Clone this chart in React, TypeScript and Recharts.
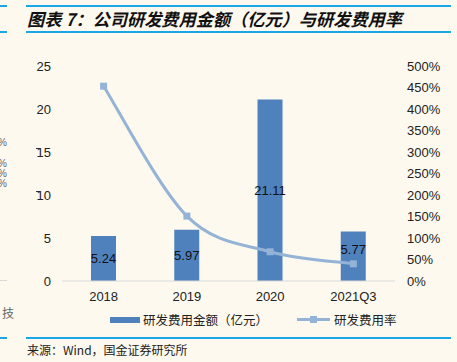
import React from "react";
import { ComposedChart, Bar, Line, XAxis, YAxis, LabelList } from "recharts";

const categories = ["2018", "2019", "2020", "2021Q3"];
const rdExpense = [5.24, 5.97, 21.11, 5.77];
const rdRate = [453, 151, 68, 40];
const leftTicks = [0, 5, 10, 15, 20, 25];
const rightTicks = [0, 50, 100, 150, 200, 250, 300, 350, 400, 450, 500];

const data = categories.map((c, i) => ({ name: c, expense: rdExpense[i], rate: rdRate[i] }));

const BG = "#FEF9EE";
const BAR = "#4F81BD";
const LINE = "#95B3D7";
const RULE = "#1AA7E8";
const NUM_FONT = "'Liberation Sans', Arial, sans-serif";
const CJK_FONT = "'Noto Sans CJK SC', sans-serif";

// Excel-like smoothed line (Catmull-Rom style bezier), as a d3-compatible curve factory
function excelSmooth(context: any) {
  let pts: [number, number][] = [];
  return {
    areaStart() {},
    areaEnd() {},
    lineStart() { pts = []; },
    point(x: number, y: number) { pts.push([+x, +y]); },
    lineEnd() {
      const n = pts.length;
      if (n === 0) return;
      context.moveTo(pts[0][0], pts[0][1]);
      for (let i = 0; i < n - 1; i++) {
        const p0 = pts[Math.max(0, i - 1)];
        const p1 = pts[i];
        const p2 = pts[i + 1];
        const p3 = pts[Math.min(n - 1, i + 2)];
        const t = 1 / 6;
        const c1x = p1[0] + (p2[0] - p0[0]) * t;
        const c1y = p1[1] + (p2[1] - p0[1]) * t;
        const c2x = p2[0] - (p3[0] - p1[0]) * t;
        const c2y = p2[1] - (p3[1] - p1[1]) * t;
        context.bezierCurveTo(c1x, c1y, c2x, c2y, p2[0], p2[1]);
      }
    },
  };
}

const SquareDot = (props: any) => {
  const { cx, cy } = props;
  if (cx == null || cy == null) return null;
  return <rect x={cx - 3.5} y={cy - 3.5} width={7} height={7} fill={LINE} />;
};

const BarLabel = (props: any) => {
  const { x, y, width, height, value, index } = props;
  const shift = index === categories.length - 1 ? -7 : 0;
  return (
    <text
      x={x + width / 2}
      y={y + height / 2 + shift}
      textAnchor="middle"
      dominantBaseline="central"
      fill="#111"
      fontSize={13}
      fontFamily={NUM_FONT}
    >
      {Number(value).toFixed(2)}
    </text>
  );
};

export default function App() {
  return (
    <div style={{ position: "absolute", left: 0, top: 0, width: 457, height: 362, background: BG, overflow: "hidden" }}>
      {/* title rules */}
      <div style={{ position: "absolute", left: 0, top: 5, width: 7, height: 2, background: RULE }} />
      <div style={{ position: "absolute", left: 0, top: 31, width: 7, height: 2, background: RULE }} />
      <div style={{ position: "absolute", left: 26, top: 5, width: 425, height: 2, background: RULE }} />
      <div style={{ position: "absolute", left: 26, top: 31, width: 425, height: 2, background: RULE }} />
      <div style={{ position: "absolute", left: 27, top: 7, height: 24, lineHeight: "24px", fontFamily: CJK_FONT, fontSize: 17.2, fontStyle: "italic", fontWeight: 700, color: "#111", whiteSpace: "nowrap" }}>
        图表 7：公司研发费用金额（亿元）与研发费用率
      </div>
      {/* remnants of neighbouring column */}
      {[142, 163, 173, 183].map((y, i) => (
        <div key={i} style={{ position: "absolute", left: -2, top: y - 4, fontFamily: NUM_FONT, fontSize: 10, color: "#666", lineHeight: "9px" }}>%</div>
      ))}
      <div style={{ position: "absolute", left: 36, top: 148, width: 4, height: 1, background: "#333" }} />
      <div style={{ position: "absolute", left: 36, top: 191, width: 4, height: 1, background: "#333" }} />
      <div style={{ position: "absolute", left: 0, top: 280, width: 7, height: 1, background: "#D9D9D9" }} />
      <div style={{ position: "absolute", left: 2, top: 305, fontFamily: CJK_FONT, fontSize: 12, color: "#666", lineHeight: "16px" }}>技</div>

      <div style={{ position: "absolute", left: 0, top: 0 }}>
        <ComposedChart width={457} height={362} data={data} margin={{ top: 66, right: 0, bottom: 0, left: 0 }} barSize={25}>
          <XAxis
            dataKey="name"
            height={81}
            axisLine={{ stroke: "#D9D9D9", strokeWidth: 1 }}
            tickLine={false}
            tickMargin={5}
            tick={{ fill: "#222", fontSize: 13, fontFamily: NUM_FONT }}
          />
          <YAxis
            yAxisId="left"
            orientation="left"
            width={62}
            domain={[0, 25]}
            ticks={leftTicks}
            axisLine={false}
            tickLine={false}
            tickMargin={5}
            tick={{ fill: "#222", fontSize: 13, fontFamily: NUM_FONT }}
          />
          <YAxis
            yAxisId="right"
            orientation="right"
            width={62}
            domain={[0, 500]}
            ticks={rightTicks}
            axisLine={false}
            tickLine={false}
            tickMargin={6}
            tickFormatter={(v: number) => `${v}%`}
            tick={{ fill: "#222", fontSize: 13, fontFamily: NUM_FONT, textAnchor: "start" }}
          />
          <Bar yAxisId="left" dataKey="expense" fill={BAR} isAnimationActive={false}>
            <LabelList dataKey="expense" content={<BarLabel />} />
          </Bar>
          <Line
            yAxisId="right"
            dataKey="rate"
            type={excelSmooth as any}
            stroke={LINE}
            strokeWidth={3}
            dot={<SquareDot />}
            activeDot={false}
            isAnimationActive={false}
          />
        </ComposedChart>
      </div>

      {/* legend */}
      <div style={{ position: "absolute", left: 110, top: 317, width: 30, height: 6, background: BAR }} />
      <div style={{ position: "absolute", left: 143, top: 311, fontFamily: CJK_FONT, fontSize: 12.5, color: "#222", lineHeight: "18px", whiteSpace: "nowrap" }}>研发费用金额（亿元）</div>
      <div style={{ position: "absolute", left: 297, top: 318, width: 33, height: 3, background: LINE }} />
      <div style={{ position: "absolute", left: 310, top: 316, width: 7, height: 7, background: LINE }} />
      <div style={{ position: "absolute", left: 334, top: 311, fontFamily: CJK_FONT, fontSize: 12.5, color: "#222", lineHeight: "18px", whiteSpace: "nowrap" }}>研发费用率</div>

      {/* bottom rule + source */}
      <div style={{ position: "absolute", left: 0, top: 337, width: 7, height: 2, background: RULE }} />
      <div style={{ position: "absolute", left: 26, top: 337, width: 425, height: 2, background: RULE }} />
      <div style={{ position: "absolute", left: 27, top: 342, fontFamily: CJK_FONT, fontSize: 12, color: "#222", lineHeight: "16px", whiteSpace: "nowrap" }}>来源：Wind，国金证券研究所</div>
    </div>
  );
}
